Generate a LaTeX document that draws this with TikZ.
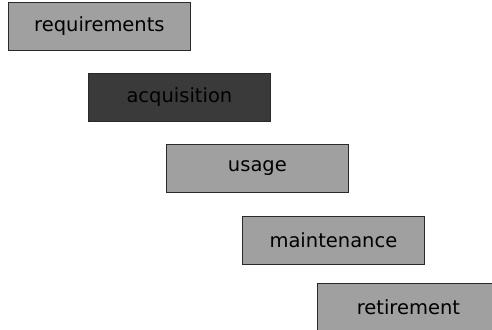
\documentclass[tikz,border=0pt]{standalone}
\usepackage{fontspec}
\setmainfont{DejaVu Sans}
\definecolor{boxgray}{HTML}{A0A0A0}
\definecolor{boxdark}{HTML}{3A3A3A}
\definecolor{edgegray}{HTML}{2A2A2A}
\begin{document}
\begin{tikzpicture}[x=1pt,y=-1pt,
  phase/.style={draw=edgegray, line width=0.8pt, fill=boxgray, minimum width=182pt, minimum height=48pt, inner sep=0pt, font=\fontsize{19.5}{22}\selectfont, text=black, anchor=north west},
  phasedark/.style={phase, fill=boxdark}]
\useasboundingbox (0,0) rectangle (492,329);
\clip (0,0) rectangle (492,329);
\node[phase] (req) at (8,2) {requirements};
\node[phasedark] (acq) at (88,73) {acquisition};
\node[phase] (use) at (166,144) {usage};
\node[phase] (mai) at (242,216) {maintenance};
\node[phase] (ret) at (317,283) {retirement};
\end{tikzpicture}
\end{document}
